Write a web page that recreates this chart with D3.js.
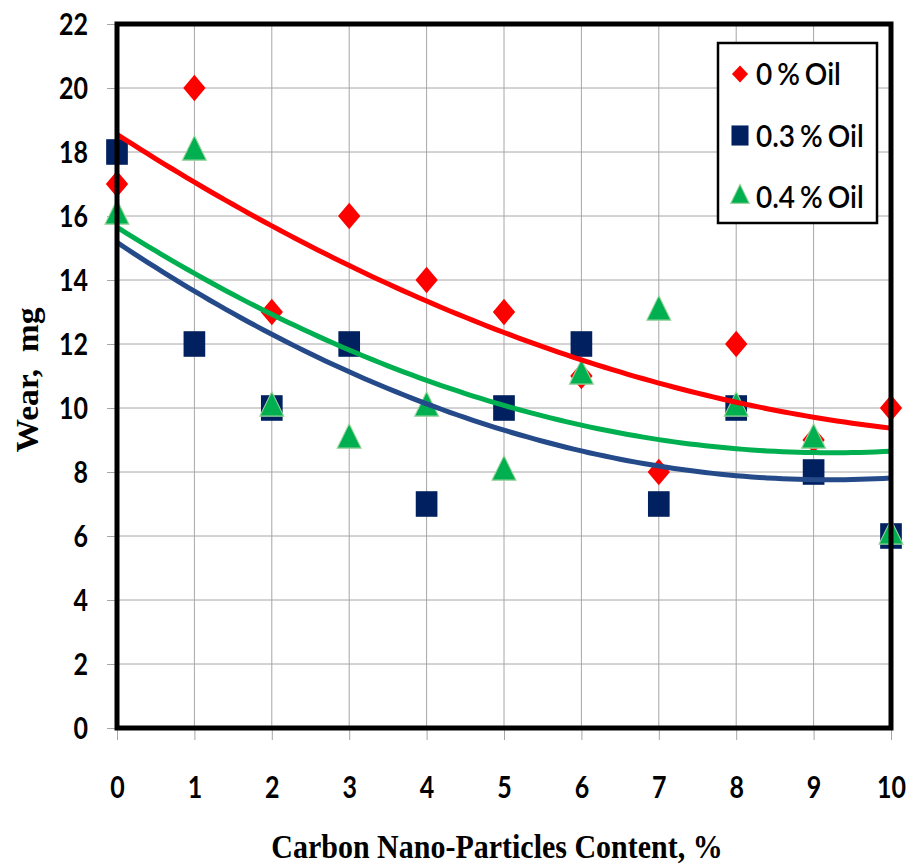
<!DOCTYPE html>
<html lang="en">
<head>
<meta charset="UTF-8">
<title>Wear vs Carbon Nano-Particles Content</title>
<script src="https://d3js.org/d3.v7.min.js"></script>
<style>
  body { margin: 0; background: #fff; }
  .tick text { font-family: Lato, "Open Sans", sans-serif; font-weight: bold; font-size: 25px; fill: #000; }
</style>
</head>
<body>
<script>
var content = [0, 1, 2, 3, 4, 5, 6, 7, 8, 9, 10];
var wear0 = [17, 20, 13, 16, 14, 13, 11, 8, 12, 9, 10];
var wear03 = [18, 12, 10, 12, 7, 10, 12, 7, 10, 8, 6];
var wear04 = [16, 18, 10, 9, 10, 8, 11, 13, 10, 9, 6];
var seriesNames = ["0 % Oil", "0.3 % Oil", "0.4 % Oil"];
var yTicks = [0, 2, 4, 6, 8, 10, 12, 14, 16, 18, 20, 22];

var width = 909, height = 868;
var margin = {left: 117, right: 18, top: 24, bottom: 140};
var stretch = 1.18; // the original picture is squashed wider than tall

var svg = d3.select("body").append("svg")
  .attr("width", width)
  .attr("height", height);

var x = d3.scaleLinear().domain([0, 10]).range([margin.left, width - margin.right]);
var y = d3.scaleLinear().domain([0, 22]).range([height - margin.bottom, margin.top]);

// gridlines
svg.append("g").selectAll("line.v").data(content).enter().append("line")
  .attr("x1", d => x(d)).attr("x2", d => x(d))
  .attr("y1", y(22)).attr("y2", y(0))
  .attr("stroke", "#a6a6a6").attr("stroke-width", 1);
svg.append("g").selectAll("line.h").data(yTicks).enter().append("line")
  .attr("x1", x(0)).attr("x2", x(10))
  .attr("y1", d => y(d)).attr("y2", d => y(d))
  .attr("stroke", "#a6a6a6").attr("stroke-width", 1);

// axes
var xAxis = svg.append("g")
  .attr("transform", "translate(0," + y(0) + ")")
  .call(d3.axisBottom(x).tickValues(content).tickSize(12));
var yAxis = svg.append("g")
  .attr("transform", "translate(" + x(0) + ",0)")
  .call(d3.axisLeft(y).tickValues(yTicks).tickSize(10));
[xAxis, yAxis].forEach(function(a) {
  a.select(".domain").remove();
  a.selectAll(".tick line").attr("stroke", "#a6a6a6");
});
xAxis.selectAll(".tick text")
  .attr("x", 0).attr("y", 0).attr("dy", null)
  .attr("transform", "translate(0,70) scale(1," + stretch + ")");
yAxis.selectAll(".tick text")
  .attr("x", 0).attr("y", 0).attr("dy", null)
  .attr("transform", "translate(-29,10.5) scale(1," + stretch + ")");

// quadratic least-squares trend
function quadFit(xs, ys) {
  var n = xs.length, s = [0, 0, 0, 0, 0], t = [0, 0, 0];
  for (var i = 0; i < n; i++) {
    var p = 1;
    for (var k = 0; k < 5; k++) { s[k] += p; if (k < 3) t[k] += p * ys[i]; p *= xs[i]; }
  }
  var A = [[s[0], s[1], s[2], t[0]], [s[1], s[2], s[3], t[1]], [s[2], s[3], s[4], t[2]]];
  for (var c = 0; c < 3; c++) {
    for (var r = c + 1; r < 3; r++) {
      var f = A[r][c] / A[c][c];
      for (var j = c; j < 4; j++) A[r][j] -= f * A[c][j];
    }
  }
  var b = [0, 0, 0];
  for (var r2 = 2; r2 >= 0; r2--) {
    var v = A[r2][3];
    for (var j2 = r2 + 1; j2 < 3; j2++) v -= A[r2][j2] * b[j2];
    b[r2] = v / A[r2][r2];
  }
  return function(xx) { return b[0] + b[1] * xx + b[2] * xx * xx; };
}

// diamond = square turned 45deg
var series = [
  {name: seriesNames[0], values: wear0, color: "#ff0000", line: "#ff0000", shape: d3.symbolSquare, size: 250, rot: " rotate(45)", legSize: 130, stroke: "none"},
  {name: seriesNames[1], values: wear03, color: "#002060", line: "#254a8a", shape: d3.symbolSquare, size: 470, rot: "", legSize: 290, stroke: "none"},
  {name: seriesNames[2], values: wear04, color: "#00b050", line: "#00b050", shape: d3.symbolTriangle, size: 250, rot: "", legSize: 150, stroke: "#9bd39b"}
];

var fine = d3.range(0, 10.01, 0.1);
var line = d3.line().x(d => x(d[0])).y(d => y(d[1]));

series.forEach(function(s) { s.fn = quadFit(content, s.values); });

series.forEach(function(s) {
  svg.append("g").selectAll("path").data(s.values).enter().append("path")
    .attr("d", d3.symbol().type(s.shape).size(s.size))
    .attr("transform", (d, i) => "translate(" + x(content[i]) + "," + y(d) + ") scale(1," + stretch + ")" + s.rot)
    .attr("fill", s.color)
    .attr("stroke", s.stroke).attr("stroke-width", 1);
});

series.forEach(function(s) {
  svg.append("path")
    .datum(fine.map(v => [v, s.fn(v)]))
    .attr("d", line)
    .attr("fill", "none")
    .attr("stroke", s.line)
    .attr("stroke-width", 5);
});

// plot frame
svg.append("rect")
  .attr("x", x(0)).attr("y", y(22))
  .attr("width", x(10) - x(0)).attr("height", y(0) - y(22))
  .attr("fill", "none").attr("stroke", "#000").attr("stroke-width", 5);

// legend
var lg = svg.append("g").attr("transform", "translate(718,43)");
lg.append("rect").attr("width", 159).attr("height", 180)
  .attr("fill", "#fff").attr("stroke", "#000").attr("stroke-width", 2.5);
series.forEach(function(s, i) {
  var cy = 31 + i * 61.5;
  lg.append("path")
    .attr("d", d3.symbol().type(s.shape).size(s.legSize))
    .attr("transform", "translate(22," + cy + ") scale(1," + (s.rot ? 1.05 : stretch) + ")" + s.rot)
    .attr("fill", s.color).attr("stroke", s.stroke);
  lg.append("text")
    .attr("transform", "translate(38," + (cy + 11) + ") scale(1,1.1)")
    .attr("font-family", "Lato, 'Open Sans', sans-serif")
    .attr("font-size", 28)
    .attr("font-weight", 600)
    .attr("word-spacing", -2)
    .text(s.name);
});

// axis titles
svg.append("text")
  .attr("transform", "translate(" + ((x(0) + x(10)) / 2 - 7) + ",858) scale(1,1.15)")
  .attr("text-anchor", "middle")
  .attr("font-family", "'Liberation Serif', 'Times New Roman', serif")
  .attr("font-weight", "bold").attr("font-size", 30)
  .text("Carbon Nano-Particles Content, %");
svg.append("text")
  .attr("transform", "translate(38," + ((y(0) + y(22)) / 2 + 4) + ") rotate(-90) scale(1.12,1.05)")
  .attr("text-anchor", "middle")
  .attr("font-family", "'Liberation Serif', 'Times New Roman', serif")
  .attr("font-weight", "bold").attr("font-size", 30)
  .style("white-space", "pre")
  .text("Wear,  mg");
</script>
</body>
</html>
